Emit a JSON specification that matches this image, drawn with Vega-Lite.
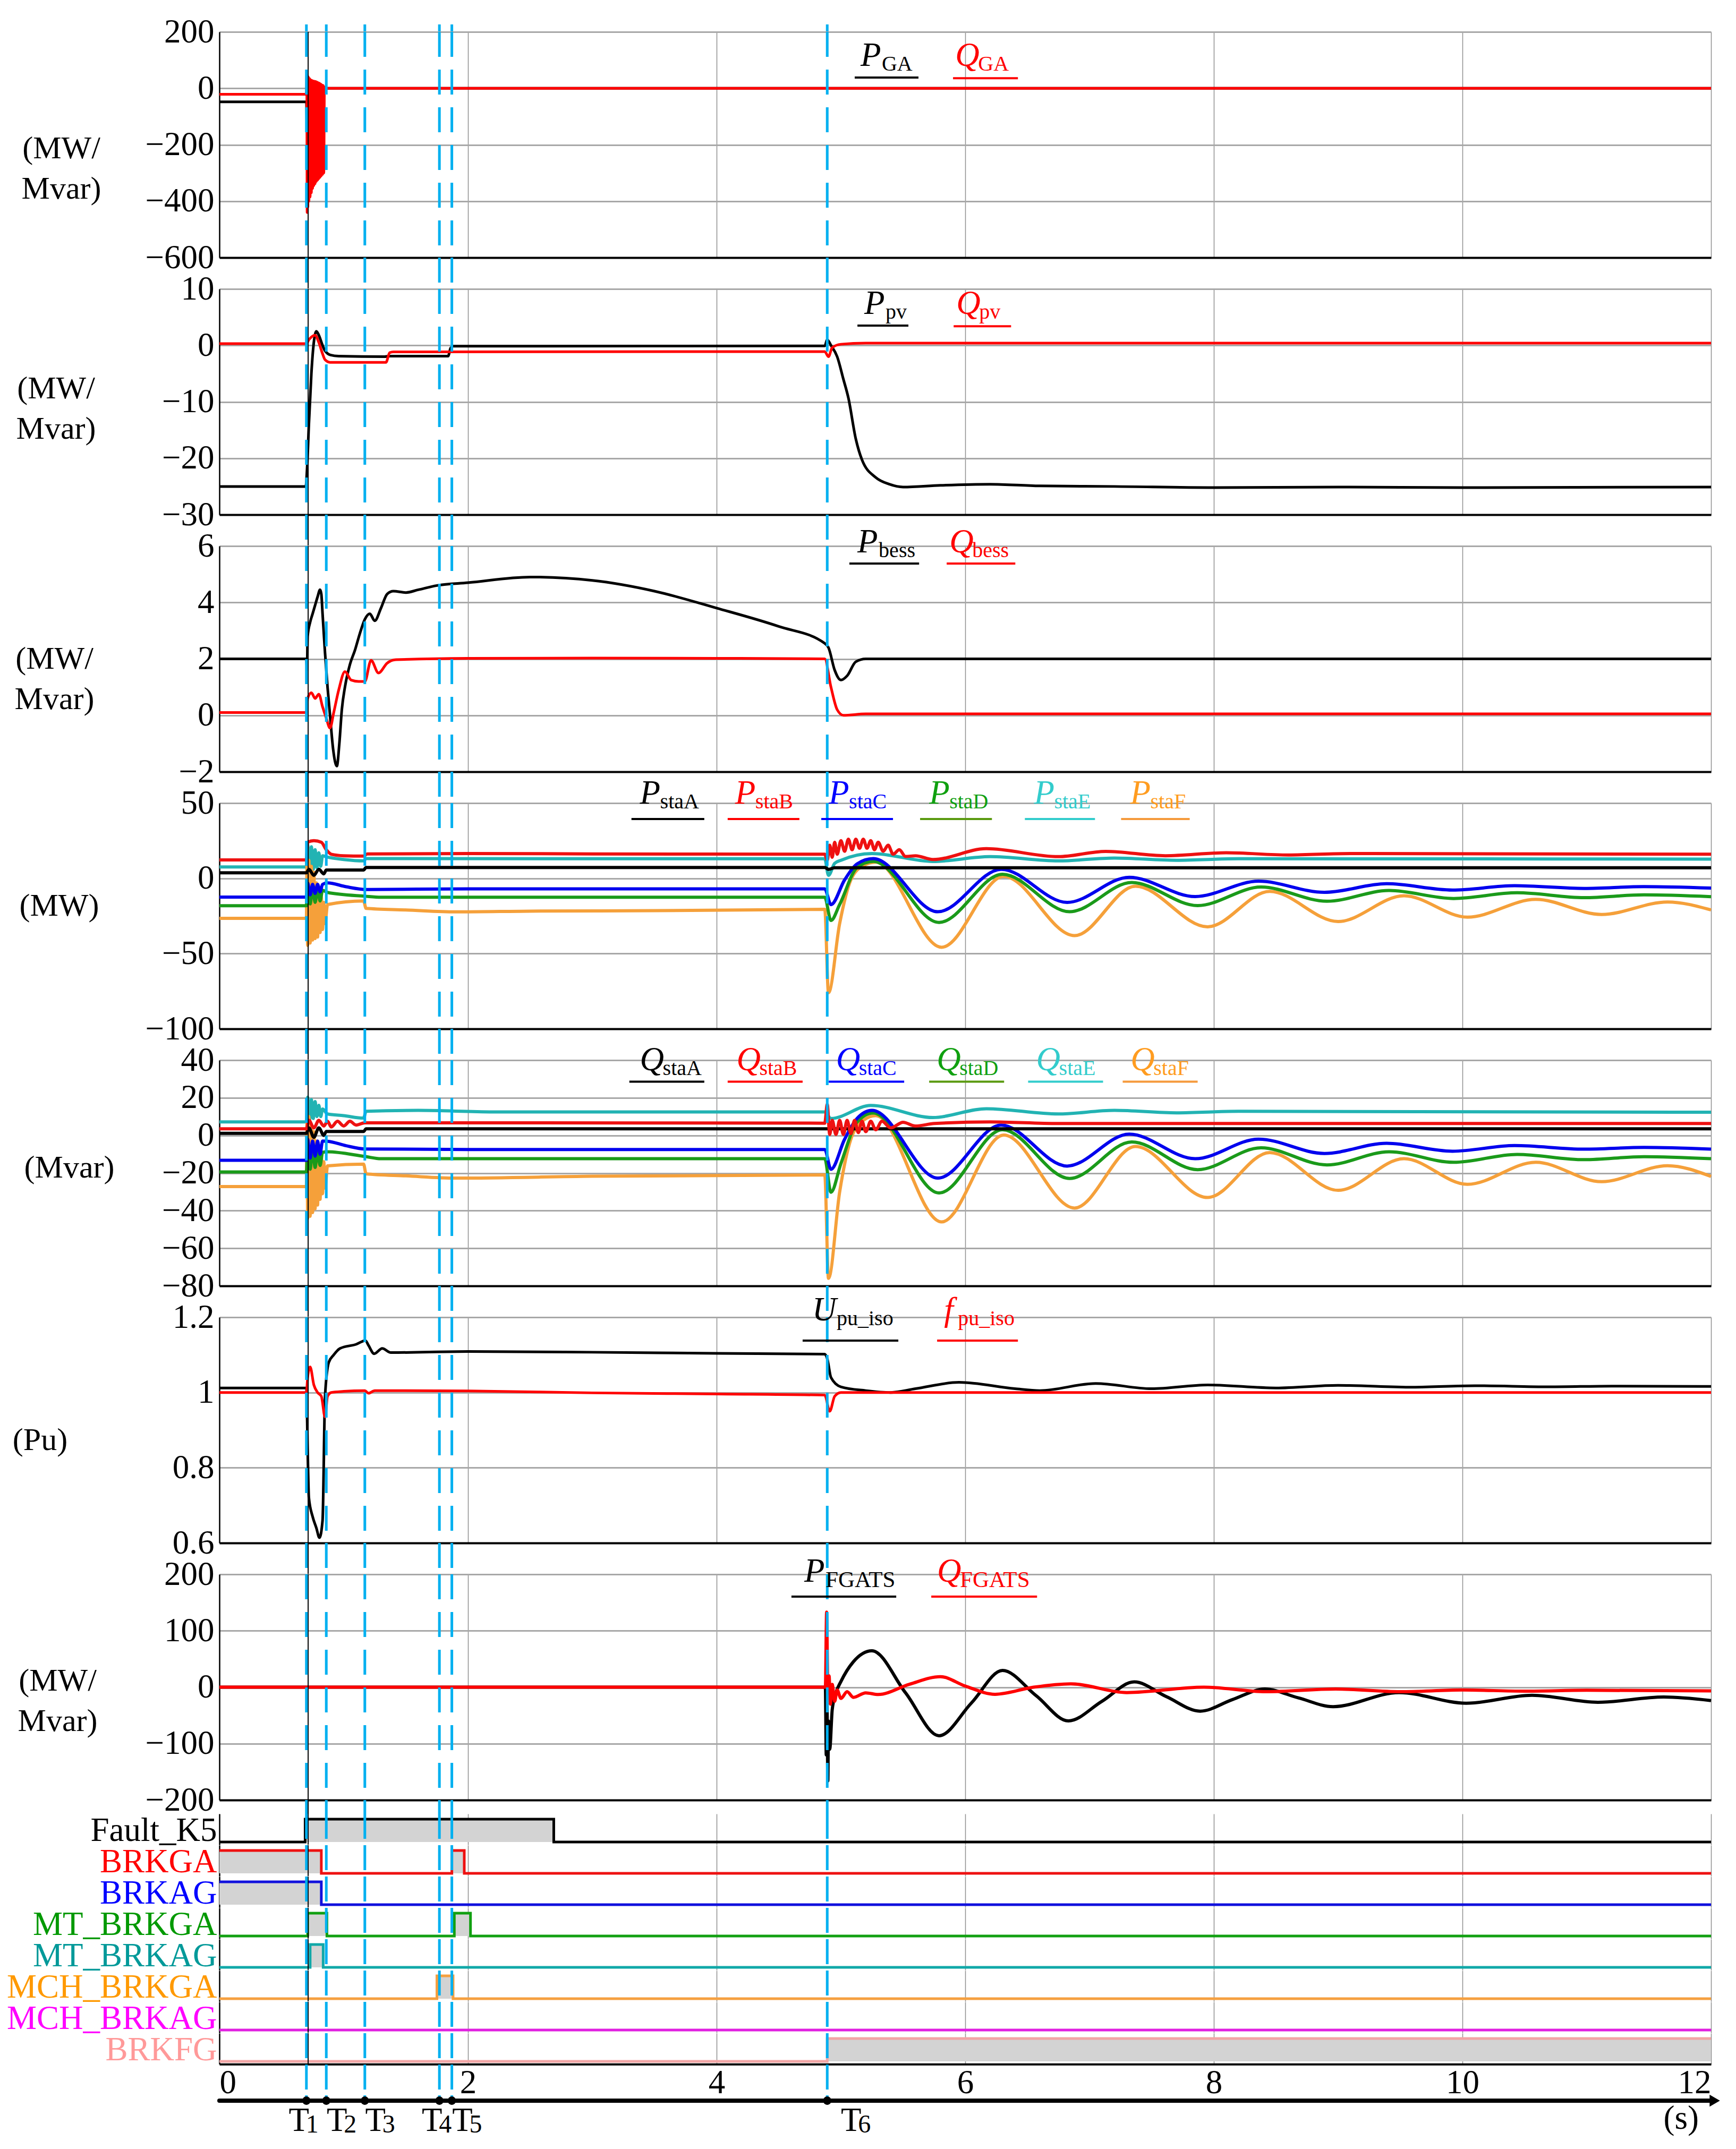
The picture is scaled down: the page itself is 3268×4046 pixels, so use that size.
{
"$schema": "https://vega.github.io/schema/vega-lite/v6.json",
"background": "white",
"padding": {"left": 12, "top": 29, "right": 10, "bottom": 10},
"config": {
  "font": "Liberation Serif",
  "view": {"stroke": null},
  "axis": {"labelFont": "Liberation Serif", "titleFont": "Liberation Serif", "labelFontSize": 63, "titleFontSize": 60, "titleFontWeight": "normal", "labelColor": "#000000", "titleColor": "#000000", "ticks": false, "domainColor": "#000000"},
  "axisX": {"grid": true, "gridColor": "#8f8f8f", "gridWidth": 1.5, "labels": false, "domainWidth": 4},
  "axisY": {"grid": true, "gridColor": "#a8a8a8", "gridWidth": 3, "domainWidth": 2.5, "labelPadding": 10, "titleAngle": 0, "titleAlign": "center", "titleBaseline": "middle", "titleLineHeight": 76, "titlePadding": 0},
  "line": {"interpolate": "monotone", "strokeWidth": 5},
  "text": {"font": "Liberation Serif"}
},
"datasets": {
  "T": [{"t":0.70,"n":"1"},{"t":0.86,"n":"2"},{"t":1.17,"n":"3"},{"t":1.77,"n":"4"},{"t":1.87,"n":"5"},{"t":4.89,"n":"6"}],
  "p1": [
    {"s":"P","t":0,"v":-48},{"s":"P","t":0.7,"v":-48},{"s":"P","t":0.705,"v":-150},{"s":"P","t":0.72,"v":-120},{"s":"P","t":0.76,"v":-80},{"s":"P","t":0.8,"v":-40},{"s":"P","t":0.84,"v":-10},{"s":"P","t":0.86,"v":0},{"s":"P","t":12,"v":0},
    {"s":"Q","t":0,"v":-21},{"s":"Q","t":0.7,"v":-21},{"s":"Q","t":0.703,"v":50},{"s":"Q","t":0.706,"v":-440},{"s":"Q","t":0.709,"v":45},{"s":"Q","t":0.712,"v":-420},{"s":"Q","t":0.715,"v":40},{"s":"Q","t":0.72,"v":-400},{"s":"Q","t":0.725,"v":35},{"s":"Q","t":0.73,"v":-385},{"s":"Q","t":0.735,"v":30},{"s":"Q","t":0.74,"v":-370},{"s":"Q","t":0.745,"v":28},{"s":"Q","t":0.75,"v":-355},{"s":"Q","t":0.755,"v":26},{"s":"Q","t":0.76,"v":-345},{"s":"Q","t":0.765,"v":25},{"s":"Q","t":0.77,"v":-338},{"s":"Q","t":0.775,"v":24},{"s":"Q","t":0.78,"v":-330},{"s":"Q","t":0.785,"v":22},{"s":"Q","t":0.79,"v":-325},{"s":"Q","t":0.795,"v":20},{"s":"Q","t":0.8,"v":-320},{"s":"Q","t":0.805,"v":18},{"s":"Q","t":0.81,"v":-315},{"s":"Q","t":0.815,"v":15},{"s":"Q","t":0.82,"v":-310},{"s":"Q","t":0.825,"v":12},{"s":"Q","t":0.83,"v":-305},{"s":"Q","t":0.835,"v":10},{"s":"Q","t":0.84,"v":-300},{"s":"Q","t":0.845,"v":5},{"s":"Q","t":0.85,"v":0},{"s":"Q","t":12,"v":0}
  ],
  "p2": [
    {"s":"P","t":0,"v":-25},{"s":"P","t":0.695,"v":-25},{"s":"P","t":0.705,"v":-22},{"s":"P","t":0.72,"v":-14},{"s":"P","t":0.74,"v":-5},{"s":"P","t":0.757,"v":0},{"s":"P","t":0.78,"v":2.5},{"s":"P","t":0.8,"v":1.8},{"s":"P","t":0.83,"v":0},{"s":"P","t":0.851,"v":-1.0},{"s":"P","t":0.894,"v":-1.7},{"s":"P","t":0.96,"v":-1.9},{"s":"P","t":1.33,"v":-2.0},{"s":"P","t":1.36,"v":-1.9},{"s":"P","t":1.84,"v":-1.9},{"s":"P","t":1.86,"v":-0.5},{"s":"P","t":1.88,"v":-0.15},{"s":"P","t":4.87,"v":-0.1},{"s":"P","t":4.89,"v":1.0},{"s":"P","t":4.92,"v":0},{"s":"P","t":4.97,"v":-2},{"s":"P","t":5.02,"v":-6},{"s":"P","t":5.06,"v":-9.3},{"s":"P","t":5.12,"v":-16.6},{"s":"P","t":5.17,"v":-20.3},{"s":"P","t":5.28,"v":-23.4},{"s":"P","t":5.39,"v":-24.6},{"s":"P","t":5.5,"v":-25.1},{"s":"P","t":5.8,"v":-24.8},{"s":"P","t":6.2,"v":-24.6},{"s":"P","t":6.6,"v":-24.9},{"s":"P","t":7.2,"v":-25.0},{"s":"P","t":8,"v":-25.2},{"s":"P","t":9,"v":-25.1},{"s":"P","t":10,"v":-25.2},{"s":"P","t":12,"v":-25.1},
    {"s":"Q","t":0,"v":0.3},{"s":"Q","t":0.7,"v":0.3},{"s":"Q","t":0.72,"v":1.0},{"s":"Q","t":0.77,"v":1.8},{"s":"Q","t":0.8,"v":0.5},{"s":"Q","t":0.83,"v":-1.5},{"s":"Q","t":0.85,"v":-2.55},{"s":"Q","t":0.89,"v":-3.0},{"s":"Q","t":1.34,"v":-3.0},{"s":"Q","t":1.37,"v":-1.3},{"s":"Q","t":1.4,"v":-1.15},{"s":"Q","t":4.87,"v":-1.1},{"s":"Q","t":4.9,"v":-2},{"s":"Q","t":4.93,"v":-0.4},{"s":"Q","t":5.0,"v":0.2},{"s":"Q","t":5.2,"v":0.4},{"s":"Q","t":12,"v":0.4}
  ],
  "p3": [
    {"s":"P","t":0,"v":2.0},{"s":"P","t":0.7,"v":2.0},{"s":"P","t":0.705,"v":1.6},{"s":"P","t":0.71,"v":2.8},{"s":"P","t":0.73,"v":3.3},{"s":"P","t":0.75,"v":3.6},{"s":"P","t":0.77,"v":3.9},{"s":"P","t":0.79,"v":4.2},{"s":"P","t":0.81,"v":4.45},{"s":"P","t":0.82,"v":4.3},{"s":"P","t":0.83,"v":3.6},{"s":"P","t":0.85,"v":2.2},{"s":"P","t":0.87,"v":1.0},{"s":"P","t":0.89,"v":0.0},{"s":"P","t":0.915,"v":-1.2},{"s":"P","t":0.945,"v":-1.8},{"s":"P","t":0.965,"v":-1.0},{"s":"P","t":0.985,"v":0.2},{"s":"P","t":1.01,"v":1.0},{"s":"P","t":1.05,"v":1.8},{"s":"P","t":1.09,"v":2.3},{"s":"P","t":1.13,"v":2.9},{"s":"P","t":1.17,"v":3.4},{"s":"P","t":1.21,"v":3.6},{"s":"P","t":1.25,"v":3.35},{"s":"P","t":1.3,"v":3.8},{"s":"P","t":1.35,"v":4.3},{"s":"P","t":1.4,"v":4.4},{"s":"P","t":1.5,"v":4.35},{"s":"P","t":1.6,"v":4.45},{"s":"P","t":1.75,"v":4.6},{"s":"P","t":2.0,"v":4.7},{"s":"P","t":2.5,"v":4.9},{"s":"P","t":3.0,"v":4.78},{"s":"P","t":3.5,"v":4.4},{"s":"P","t":4.0,"v":3.8},{"s":"P","t":4.5,"v":3.15},{"s":"P","t":4.87,"v":2.55},{"s":"P","t":4.9,"v":2.4},{"s":"P","t":4.95,"v":1.6},{"s":"P","t":5.0,"v":1.25},{"s":"P","t":5.05,"v":1.4},{"s":"P","t":5.12,"v":1.9},{"s":"P","t":5.2,"v":2.0},{"s":"P","t":12,"v":2.0},
    {"s":"Q","t":0,"v":0.1},{"s":"Q","t":0.7,"v":0.1},{"s":"Q","t":0.71,"v":0.6},{"s":"Q","t":0.74,"v":0.8},{"s":"Q","t":0.77,"v":0.6},{"s":"Q","t":0.8,"v":0.75},{"s":"Q","t":0.83,"v":0.3},{"s":"Q","t":0.86,"v":-0.1},{"s":"Q","t":0.89,"v":-0.45},{"s":"Q","t":0.92,"v":0.1},{"s":"Q","t":0.96,"v":0.9},{"s":"Q","t":1.01,"v":1.55},{"s":"Q","t":1.06,"v":1.25},{"s":"Q","t":1.12,"v":1.2},{"s":"Q","t":1.17,"v":1.2},{"s":"Q","t":1.22,"v":1.95},{"s":"Q","t":1.28,"v":1.5},{"s":"Q","t":1.35,"v":1.85},{"s":"Q","t":1.42,"v":1.97},{"s":"Q","t":2.0,"v":2.02},{"s":"Q","t":3.0,"v":2.03},{"s":"Q","t":4.0,"v":2.02},{"s":"Q","t":4.87,"v":2.0},{"s":"Q","t":4.92,"v":1.0},{"s":"Q","t":4.97,"v":0.2},{"s":"Q","t":5.02,"v":0.0},{"s":"Q","t":5.2,"v":0.05},{"s":"Q","t":12,"v":0.05}
  ],
  "p4": [
    {"s":"E","t":0,"v":7.6},{"s":"E","t":0.7,"v":7.6},{"s":"E","t":0.71,"v":22.5},{"s":"E","t":0.725,"v":5},{"s":"E","t":0.74,"v":21},{"s":"E","t":0.755,"v":6},{"s":"E","t":0.77,"v":19},{"s":"E","t":0.785,"v":7},{"s":"E","t":0.8,"v":17},{"s":"E","t":0.815,"v":8},{"s":"E","t":0.83,"v":15},{"s":"E","t":0.86,"v":14.3},{"s":"E","t":1.0,"v":12.5},{"s":"E","t":1.16,"v":11.6},{"s":"E","t":1.18,"v":13.1},{"s":"E","t":4.87,"v":13},{"s":"E","t":4.9,"v":2},{"s":"E","t":4.95,"v":10},{"s":"E","t":5.0,"v":12},{"s":"E","t":5.25,"v":16.5},{"s":"E","t":5.74,"v":11.2},{"s":"E","t":6.2,"v":14.4},{"s":"E","t":6.75,"v":11.6},{"s":"E","t":7.2,"v":13.5},{"s":"E","t":7.7,"v":12},{"s":"E","t":8.2,"v":13},{"s":"E","t":12,"v":12.8},
    {"s":"F","t":0,"v":-26.6},{"s":"F","t":0.7,"v":-26.6},{"s":"F","t":0.705,"v":14},{"s":"F","t":0.71,"v":-44.6},{"s":"F","t":0.72,"v":12},{"s":"F","t":0.73,"v":-43},{"s":"F","t":0.74,"v":8},{"s":"F","t":0.75,"v":-41},{"s":"F","t":0.76,"v":4},{"s":"F","t":0.77,"v":-40},{"s":"F","t":0.78,"v":-3},{"s":"F","t":0.79,"v":-39},{"s":"F","t":0.8,"v":-8},{"s":"F","t":0.81,"v":-36},{"s":"F","t":0.82,"v":-12},{"s":"F","t":0.83,"v":-34},{"s":"F","t":0.84,"v":-16},{"s":"F","t":0.85,"v":-30},{"s":"F","t":0.87,"v":-17.4},{"s":"F","t":1.16,"v":-15},{"s":"F","t":1.18,"v":-20},{"s":"F","t":1.5,"v":-21},{"s":"F","t":1.9,"v":-22.3},{"s":"F","t":2.5,"v":-21.8},{"s":"F","t":3.5,"v":-21.5},{"s":"F","t":4.87,"v":-20.6},{"s":"F","t":4.9,"v":-76},{"s":"F","t":4.99,"v":-30},{"s":"F","t":5.08,"v":-1},{"s":"F","t":5.18,"v":8.4},{"s":"F","t":5.28,"v":10.7},{"s":"F","t":5.81,"v":-45.8},{"s":"F","t":6.31,"v":1.3},{"s":"F","t":6.88,"v":-38.1},{"s":"F","t":7.37,"v":-5.2},{"s":"F","t":7.95,"v":-32.2},{"s":"F","t":8.45,"v":-8.7},{"s":"F","t":9.0,"v":-28.7},{"s":"F","t":9.53,"v":-11.6},{"s":"F","t":10.04,"v":-25.8},{"s":"F","t":10.59,"v":-14},{"s":"F","t":11.12,"v":-24},{"s":"F","t":11.65,"v":-15.7},{"s":"F","t":12,"v":-21},
    {"s":"D","t":0,"v":-18.2},{"s":"D","t":0.7,"v":-18.2},{"s":"D","t":0.71,"v":-5},{"s":"D","t":0.73,"v":-17},{"s":"D","t":0.75,"v":-6},{"s":"D","t":0.77,"v":-16},{"s":"D","t":0.79,"v":-7},{"s":"D","t":0.81,"v":-15},{"s":"D","t":0.83,"v":-8},{"s":"D","t":0.87,"v":-9.4},{"s":"D","t":1.17,"v":-11.9},{"s":"D","t":1.3,"v":-12.6},{"s":"D","t":4.87,"v":-12.6},{"s":"D","t":4.92,"v":-28},{"s":"D","t":4.99,"v":-17.4},{"s":"D","t":5.13,"v":7.2},{"s":"D","t":5.26,"v":11.3},{"s":"D","t":5.79,"v":-29.3},{"s":"D","t":6.3,"v":2.7},{"s":"D","t":6.84,"v":-22.2},{"s":"D","t":7.34,"v":-2.8},{"s":"D","t":7.87,"v":-18.1},{"s":"D","t":8.38,"v":-5.8},{"s":"D","t":8.91,"v":-15.2},{"s":"D","t":9.41,"v":-8.1},{"s":"D","t":9.93,"v":-13.4},{"s":"D","t":10.44,"v":-9.6},{"s":"D","t":10.98,"v":-12.8},{"s":"D","t":11.46,"v":-11},{"s":"D","t":12,"v":-12.2},
    {"s":"C","t":0,"v":-12.5},{"s":"C","t":0.7,"v":-12.5},{"s":"C","t":0.71,"v":-3},{"s":"C","t":0.73,"v":-11},{"s":"C","t":0.75,"v":-4},{"s":"C","t":0.77,"v":-10},{"s":"C","t":0.79,"v":-4},{"s":"C","t":0.81,"v":-9},{"s":"C","t":0.83,"v":-4},{"s":"C","t":0.87,"v":-3},{"s":"C","t":1.02,"v":-5.6},{"s":"C","t":1.18,"v":-7.4},{"s":"C","t":2,"v":-7},{"s":"C","t":4.87,"v":-7},{"s":"C","t":4.92,"v":-17.5},{"s":"C","t":5.03,"v":-1},{"s":"C","t":5.13,"v":9.6},{"s":"C","t":5.26,"v":13.1},{"s":"C","t":5.78,"v":-22.2},{"s":"C","t":6.29,"v":6},{"s":"C","t":6.82,"v":-16},{"s":"C","t":7.32,"v":0.7},{"s":"C","t":7.85,"v":-12.1},{"s":"C","t":8.36,"v":-1.9},{"s":"C","t":8.89,"v":-9.3},{"s":"C","t":9.39,"v":-3.6},{"s":"C","t":9.92,"v":-7.8},{"s":"C","t":10.42,"v":-4.9},{"s":"C","t":10.98,"v":-6.7},{"s":"C","t":11.46,"v":-5.5},{"s":"C","t":12,"v":-6.5},
    {"s":"A","t":0,"v":3.7},{"s":"A","t":0.7,"v":3.7},{"s":"A","t":0.72,"v":6},{"s":"A","t":0.76,"v":2},{"s":"A","t":0.8,"v":6},{"s":"A","t":0.84,"v":3},{"s":"A","t":0.86,"v":5.5},{"s":"A","t":1.16,"v":5.5},{"s":"A","t":1.18,"v":7.2},{"s":"A","t":4.87,"v":7.2},{"s":"A","t":4.9,"v":6},{"s":"A","t":4.95,"v":7},{"s":"A","t":12,"v":7.0},
    {"s":"B","t":0,"v":12.2},{"s":"B","t":0.7,"v":12.2},{"s":"B","t":0.71,"v":24},{"s":"B","t":0.76,"v":25},{"s":"B","t":0.82,"v":24},{"s":"B","t":0.86,"v":19},{"s":"B","t":0.9,"v":16},{"s":"B","t":1.0,"v":15},{"s":"B","t":1.16,"v":14.8},{"s":"B","t":1.19,"v":16.2},{"s":"B","t":2,"v":16.5},{"s":"B","t":3,"v":16.2},{"s":"B","t":4.87,"v":16},{"s":"B","t":4.89,"v":12},{"s":"B","t":4.91,"v":22},{"s":"B","t":4.93,"v":14},{"s":"B","t":4.95,"v":24},{"s":"B","t":4.97,"v":16},{"s":"B","t":5.0,"v":25},{"s":"B","t":5.03,"v":18},{"s":"B","t":5.06,"v":26},{"s":"B","t":5.09,"v":19},{"s":"B","t":5.12,"v":26},{"s":"B","t":5.15,"v":20},{"s":"B","t":5.18,"v":26},{"s":"B","t":5.21,"v":20},{"s":"B","t":5.24,"v":25},{"s":"B","t":5.27,"v":19},{"s":"B","t":5.3,"v":24},{"s":"B","t":5.34,"v":18},{"s":"B","t":5.38,"v":22},{"s":"B","t":5.42,"v":16},{"s":"B","t":5.47,"v":19},{"s":"B","t":5.52,"v":14.5},{"s":"B","t":5.6,"v":15},{"s":"B","t":5.74,"v":12.5},{"s":"B","t":6.17,"v":19.7},{"s":"B","t":6.75,"v":14.4},{"s":"B","t":7.13,"v":17.9},{"s":"B","t":7.61,"v":15},{"s":"B","t":8.1,"v":17},{"s":"B","t":8.6,"v":15.5},{"s":"B","t":9.1,"v":16.5},{"s":"B","t":12,"v":16}
  ],
  "p5": [
    {"s":"E","t":0,"v":7.2},{"s":"E","t":0.7,"v":7.2},{"s":"E","t":0.71,"v":20.3},{"s":"E","t":0.725,"v":8},{"s":"E","t":0.74,"v":19},{"s":"E","t":0.755,"v":9},{"s":"E","t":0.77,"v":18},{"s":"E","t":0.785,"v":10},{"s":"E","t":0.8,"v":16},{"s":"E","t":0.815,"v":10},{"s":"E","t":0.83,"v":14},{"s":"E","t":0.87,"v":11.4},{"s":"E","t":1.0,"v":10.5},{"s":"E","t":1.16,"v":9.2},{"s":"E","t":1.18,"v":12.8},{"s":"E","t":1.6,"v":13.3},{"s":"E","t":2.2,"v":12.5},{"s":"E","t":4.87,"v":12.5},{"s":"E","t":4.92,"v":9},{"s":"E","t":5.24,"v":15.9},{"s":"E","t":5.74,"v":9.5},{"s":"E","t":6.17,"v":14.2},{"s":"E","t":6.75,"v":11.4},{"s":"E","t":7.2,"v":13.3},{"s":"E","t":7.7,"v":12},{"s":"E","t":8.2,"v":12.8},{"s":"E","t":12,"v":12.3},
    {"s":"F","t":0,"v":-27.2},{"s":"F","t":0.7,"v":-27.2},{"s":"F","t":0.705,"v":11.9},{"s":"F","t":0.71,"v":-44.2},{"s":"F","t":0.72,"v":10},{"s":"F","t":0.73,"v":-43},{"s":"F","t":0.74,"v":6},{"s":"F","t":0.75,"v":-41},{"s":"F","t":0.76,"v":2},{"s":"F","t":0.77,"v":-39},{"s":"F","t":0.78,"v":-3},{"s":"F","t":0.79,"v":-37},{"s":"F","t":0.8,"v":-7},{"s":"F","t":0.81,"v":-34},{"s":"F","t":0.82,"v":-10},{"s":"F","t":0.83,"v":-31},{"s":"F","t":0.84,"v":-14},{"s":"F","t":0.85,"v":-28},{"s":"F","t":0.87,"v":-16.2},{"s":"F","t":1.16,"v":-15.3},{"s":"F","t":1.18,"v":-20.4},{"s":"F","t":1.5,"v":-21.5},{"s":"F","t":1.9,"v":-22.7},{"s":"F","t":3,"v":-21.7},{"s":"F","t":4.87,"v":-21},{"s":"F","t":4.9,"v":-76},{"s":"F","t":4.99,"v":-30},{"s":"F","t":5.08,"v":-2},{"s":"F","t":5.18,"v":8},{"s":"F","t":5.28,"v":10.5},{"s":"F","t":5.81,"v":-46},{"s":"F","t":6.31,"v":0.2},{"s":"F","t":6.88,"v":-38.6},{"s":"F","t":7.37,"v":-5.9},{"s":"F","t":7.95,"v":-33},{"s":"F","t":8.45,"v":-9.1},{"s":"F","t":9.0,"v":-29.2},{"s":"F","t":9.53,"v":-12.4},{"s":"F","t":10.04,"v":-26},{"s":"F","t":10.59,"v":-14.3},{"s":"F","t":11.12,"v":-24.6},{"s":"F","t":11.65,"v":-16.1},{"s":"F","t":12,"v":-21.8},
    {"s":"D","t":0,"v":-19.4},{"s":"D","t":0.7,"v":-19.4},{"s":"D","t":0.71,"v":-6},{"s":"D","t":0.73,"v":-18},{"s":"D","t":0.75,"v":-7},{"s":"D","t":0.77,"v":-17},{"s":"D","t":0.79,"v":-8},{"s":"D","t":0.81,"v":-16},{"s":"D","t":0.83,"v":-9},{"s":"D","t":0.87,"v":-8.7},{"s":"D","t":1.17,"v":-11.2},{"s":"D","t":1.3,"v":-12.4},{"s":"D","t":4.87,"v":-12.4},{"s":"D","t":4.92,"v":-30.2},{"s":"D","t":5.0,"v":-15},{"s":"D","t":5.13,"v":7},{"s":"D","t":5.26,"v":11.9},{"s":"D","t":5.79,"v":-30.6},{"s":"D","t":6.3,"v":3},{"s":"D","t":6.84,"v":-22.9},{"s":"D","t":7.34,"v":-3.5},{"s":"D","t":7.87,"v":-18.2},{"s":"D","t":8.38,"v":-6.6},{"s":"D","t":8.91,"v":-15.7},{"s":"D","t":9.41,"v":-8.7},{"s":"D","t":9.93,"v":-14.3},{"s":"D","t":10.44,"v":-10.1},{"s":"D","t":10.98,"v":-12.9},{"s":"D","t":11.46,"v":-11.3},{"s":"D","t":12,"v":-12.4},
    {"s":"C","t":0,"v":-13.2},{"s":"C","t":0.7,"v":-13.2},{"s":"C","t":0.71,"v":-2},{"s":"C","t":0.73,"v":-12},{"s":"C","t":0.75,"v":-3},{"s":"C","t":0.77,"v":-11},{"s":"C","t":0.79,"v":-3},{"s":"C","t":0.81,"v":-10},{"s":"C","t":0.83,"v":-3},{"s":"C","t":0.87,"v":-3.1},{"s":"C","t":1.02,"v":-5.5},{"s":"C","t":1.17,"v":-7.2},{"s":"C","t":2,"v":-7.5},{"s":"C","t":4.87,"v":-7.5},{"s":"C","t":4.92,"v":-18},{"s":"C","t":5.03,"v":-2},{"s":"C","t":5.13,"v":9},{"s":"C","t":5.25,"v":13.3},{"s":"C","t":5.78,"v":-22.7},{"s":"C","t":6.29,"v":5.5},{"s":"C","t":6.82,"v":-16.3},{"s":"C","t":7.32,"v":0.7},{"s":"C","t":7.85,"v":-12.4},{"s":"C","t":8.36,"v":-2},{"s":"C","t":8.89,"v":-9.6},{"s":"C","t":9.39,"v":-4.2},{"s":"C","t":9.92,"v":-8.4},{"s":"C","t":10.42,"v":-5.4},{"s":"C","t":10.98,"v":-7.3},{"s":"C","t":11.46,"v":-6.4},{"s":"C","t":12,"v":-7.3},
    {"s":"A","t":0,"v":1.1},{"s":"A","t":0.7,"v":1.1},{"s":"A","t":0.72,"v":4},{"s":"A","t":0.76,"v":-1},{"s":"A","t":0.8,"v":4},{"s":"A","t":0.84,"v":0},{"s":"A","t":0.86,"v":2.1},{"s":"A","t":1.16,"v":2.1},{"s":"A","t":1.18,"v":3.5},{"s":"A","t":12,"v":3.5},
    {"s":"B","t":0,"v":3.5},{"s":"B","t":0.7,"v":3.5},{"s":"B","t":0.72,"v":8},{"s":"B","t":0.76,"v":4},{"s":"B","t":0.8,"v":8},{"s":"B","t":0.84,"v":5},{"s":"B","t":0.87,"v":7.5},{"s":"B","t":0.9,"v":4.5},{"s":"B","t":0.95,"v":7.5},{"s":"B","t":1.0,"v":5},{"s":"B","t":1.05,"v":7.5},{"s":"B","t":1.1,"v":5.5},{"s":"B","t":1.17,"v":6.7},{"s":"B","t":2,"v":6.7},{"s":"B","t":4.87,"v":6.5},{"s":"B","t":4.89,"v":16.5},{"s":"B","t":4.91,"v":0.5},{"s":"B","t":4.93,"v":8},{"s":"B","t":4.96,"v":0.5},{"s":"B","t":4.99,"v":8},{"s":"B","t":5.02,"v":0.5},{"s":"B","t":5.05,"v":8},{"s":"B","t":5.08,"v":1},{"s":"B","t":5.11,"v":8},{"s":"B","t":5.14,"v":1.5},{"s":"B","t":5.17,"v":7.5},{"s":"B","t":5.2,"v":2},{"s":"B","t":5.24,"v":7.5},{"s":"B","t":5.28,"v":3},{"s":"B","t":5.33,"v":7.5},{"s":"B","t":5.4,"v":4},{"s":"B","t":5.5,"v":7},{"s":"B","t":5.6,"v":5},{"s":"B","t":5.75,"v":6.3},{"s":"B","t":6.2,"v":7.2},{"s":"B","t":6.75,"v":6.3},{"s":"B","t":12,"v":6.3}
  ],
  "p6": [
    {"s":"U","t":0,"v":1.012},{"s":"U","t":0.7,"v":1.012},{"s":"U","t":0.71,"v":0.85},{"s":"U","t":0.72,"v":0.72},{"s":"U","t":0.75,"v":0.67},{"s":"U","t":0.78,"v":0.64},{"s":"U","t":0.805,"v":0.614},{"s":"U","t":0.83,"v":0.66},{"s":"U","t":0.85,"v":0.99},{"s":"U","t":0.88,"v":1.08},{"s":"U","t":0.92,"v":1.10},{"s":"U","t":0.97,"v":1.117},{"s":"U","t":1.1,"v":1.128},{"s":"U","t":1.175,"v":1.138},{"s":"U","t":1.2,"v":1.125},{"s":"U","t":1.245,"v":1.103},{"s":"U","t":1.31,"v":1.117},{"s":"U","t":1.38,"v":1.106},{"s":"U","t":2.0,"v":1.109},{"s":"U","t":3.0,"v":1.107},{"s":"U","t":4.0,"v":1.104},{"s":"U","t":4.87,"v":1.102},{"s":"U","t":4.89,"v":1.09},{"s":"U","t":4.92,"v":1.04},{"s":"U","t":5.0,"v":1.015},{"s":"U","t":5.2,"v":1.005},{"s":"U","t":5.4,"v":1.0},{"s":"U","t":5.6,"v":1.01},{"s":"U","t":5.95,"v":1.027},{"s":"U","t":6.4,"v":1.01},{"s":"U","t":6.6,"v":1.005},{"s":"U","t":7.05,"v":1.024},{"s":"U","t":7.5,"v":1.01},{"s":"U","t":7.95,"v":1.02},{"s":"U","t":8.5,"v":1.012},{"s":"U","t":9.0,"v":1.019},{"s":"U","t":9.6,"v":1.014},{"s":"U","t":10.1,"v":1.018},{"s":"U","t":10.7,"v":1.015},{"s":"U","t":11.2,"v":1.017},{"s":"U","t":12,"v":1.016},
    {"s":"f","t":0,"v":1.0},{"s":"f","t":0.7,"v":1.0},{"s":"f","t":0.71,"v":1.04},{"s":"f","t":0.73,"v":1.068},{"s":"f","t":0.76,"v":1.02},{"s":"f","t":0.79,"v":1.0},{"s":"f","t":0.82,"v":0.99},{"s":"f","t":0.85,"v":0.935},{"s":"f","t":0.87,"v":0.99},{"s":"f","t":0.9,"v":1.0},{"s":"f","t":1.0,"v":1.003},{"s":"f","t":1.17,"v":1.005},{"s":"f","t":1.2,"v":0.998},{"s":"f","t":1.25,"v":1.005},{"s":"f","t":2.0,"v":1.004},{"s":"f","t":3.0,"v":0.999},{"s":"f","t":4.0,"v":0.996},{"s":"f","t":4.87,"v":0.993},{"s":"f","t":4.91,"v":0.95},{"s":"f","t":4.95,"v":0.99},{"s":"f","t":5.0,"v":1.0},{"s":"f","t":12,"v":1.0}
  ],
  "p7": [
    {"s":"P","t":0,"v":0},{"s":"P","t":4.875,"v":0},{"s":"P","t":4.882,"v":-120},{"s":"P","t":4.888,"v":-30},{"s":"P","t":4.895,"v":-166},{"s":"P","t":4.9,"v":-60},{"s":"P","t":4.91,"v":-110},{"s":"P","t":4.93,"v":-40},{"s":"P","t":4.96,"v":-10},{"s":"P","t":5.0,"v":10},{"s":"P","t":5.1,"v":45},{"s":"P","t":5.25,"v":64.5},{"s":"P","t":5.52,"v":-10},{"s":"P","t":5.79,"v":-86},{"s":"P","t":6.05,"v":-28},{"s":"P","t":6.3,"v":29.6},{"s":"P","t":6.57,"v":-15},{"s":"P","t":6.83,"v":-59.8},{"s":"P","t":7.1,"v":-25},{"s":"P","t":7.36,"v":9.3},{"s":"P","t":7.62,"v":-17},{"s":"P","t":7.89,"v":-42.5},{"s":"P","t":8.15,"v":-22},{"s":"P","t":8.41,"v":-3.3},{"s":"P","t":8.68,"v":-19},{"s":"P","t":8.96,"v":-34.5},{"s":"P","t":9.49,"v":-9.6},{"s":"P","t":10.03,"v":-28.4},{"s":"P","t":10.56,"v":-14.3},{"s":"P","t":11.09,"v":-26.8},{"s":"P","t":11.62,"v":-17.4},{"s":"P","t":12,"v":-23.7},
    {"s":"Q","t":0,"v":0},{"s":"Q","t":4.875,"v":0},{"s":"Q","t":4.885,"v":133},{"s":"Q","t":4.895,"v":-10},{"s":"Q","t":4.905,"v":20},{"s":"Q","t":4.915,"v":-30},{"s":"Q","t":4.93,"v":5},{"s":"Q","t":4.95,"v":-25},{"s":"Q","t":4.97,"v":-5},{"s":"Q","t":5.0,"v":-20},{"s":"Q","t":5.05,"v":-8},{"s":"Q","t":5.1,"v":-18},{"s":"Q","t":5.2,"v":-10},{"s":"Q","t":5.3,"v":-13},{"s":"Q","t":5.55,"v":5},{"s":"Q","t":5.8,"v":18.6},{"s":"Q","t":6.0,"v":2},{"s":"Q","t":6.24,"v":-12.6},{"s":"Q","t":6.55,"v":0},{"s":"Q","t":6.85,"v":6},{"s":"Q","t":7.3,"v":-9.6},{"s":"Q","t":7.92,"v":0},{"s":"Q","t":8.42,"v":-8},{"s":"Q","t":8.98,"v":-3.3},{"s":"Q","t":9.5,"v":-8},{"s":"Q","t":10,"v":-5},{"s":"Q","t":10.5,"v":-7},{"s":"Q","t":11,"v":-5.5},{"s":"Q","t":12,"v":-6.5}
  ],
  "brk": [
    {"s":"Fault_K5","t":0,"v":0},{"s":"Fault_K5","t":0.69,"v":1},{"s":"Fault_K5","t":2.69,"v":0},{"s":"Fault_K5","t":12,"v":0},
    {"s":"BRKGA","t":0,"v":1},{"s":"BRKGA","t":0.82,"v":0},{"s":"BRKGA","t":1.87,"v":1},{"s":"BRKGA","t":1.97,"v":0},{"s":"BRKGA","t":12,"v":0},
    {"s":"BRKAG","t":0,"v":1},{"s":"BRKAG","t":0.82,"v":0},{"s":"BRKAG","t":12,"v":0},
    {"s":"MT_BRKGA","t":0,"v":0},{"s":"MT_BRKGA","t":0.71,"v":1},{"s":"MT_BRKGA","t":0.865,"v":0},{"s":"MT_BRKGA","t":1.89,"v":1},{"s":"MT_BRKGA","t":2.02,"v":0},{"s":"MT_BRKGA","t":12,"v":0},
    {"s":"MT_BRKAG","t":0,"v":0},{"s":"MT_BRKAG","t":0.73,"v":1},{"s":"MT_BRKAG","t":0.835,"v":0},{"s":"MT_BRKAG","t":12,"v":0},
    {"s":"MCH_BRKGA","t":0,"v":0},{"s":"MCH_BRKGA","t":1.75,"v":1},{"s":"MCH_BRKGA","t":1.88,"v":0},{"s":"MCH_BRKGA","t":12,"v":0},
    {"s":"MCH_BRKAG","t":0,"v":0},{"s":"MCH_BRKAG","t":12,"v":0},
    {"s":"BRKFG","t":0,"v":0},{"s":"BRKFG","t":4.89,"v":1},{"s":"BRKFG","t":12,"v":1}
  ]
},
"spacing": 0,
"bounds": "flush",
"resolve": {"scale": {"color": "independent", "x": "independent", "y": "independent"}},
"vconcat": [
  {"width": 2808, "height": 14, "layer": [
    {"data": {"name": "T"}, "mark": {"type": "rule", "color": "#00b0f0", "strokeWidth": 5, "strokeDash": [47,24]}, "encoding": {"x": {"field": "t", "type": "quantitative", "scale": {"domain": [0,12], "nice": false, "zero": false}, "axis": null}}}
  ]},
  {"width": 2808, "height": 425, "layer": [
    {"data": {"name": "p1"}, "mark": {"type": "line", "strokeWidth": 5}, "encoding": {
      "x": {"field": "t", "type": "quantitative", "scale": {"domain": [0,12], "nice": false, "zero": false}, "axis": {"values": [0,2,4,6,8,10,12], "title": null}},
      "y": {"field": "v", "type": "quantitative", "scale": {"domain": [-600,200], "nice": false, "zero": false}, "axis": {"values": [-600,-400,-200,0,200], "title": ["(MW/","Mvar)"], "titleX": -298, "titleY": 219}},
      "color": {"field": "s", "type": "nominal", "scale": {"domain": ["P","Q"], "range": ["#000000","#ff0000"]}, "legend": null}}},
    {"data": {"values": [{}]}, "mark": {"type": "rule", "color": "#000000", "strokeWidth": 2}, "encoding": {"x": {"datum": 0.714}}},
    {"data": {"name": "T"}, "mark": {"type": "rule", "color": "#00b0f0", "strokeWidth": 5, "strokeDash": [47,24]}, "encoding": {"x": {"field": "t", "type": "quantitative"}}},
    {"data": {"values": [{}]}, "mark": {"type": "text", "text": "P", "fontStyle": "italic", "fontSize": 63, "color": "#000000", "align": "left", "baseline": "alphabetic"}, "encoding": {"x": {"datum": 5.158}, "y": {"datum": 79}}},
    {"data": {"values": [{}]}, "mark": {"type": "text", "text": "GA", "fontSize": 40, "color": "#000000", "align": "left", "baseline": "alphabetic", "dx": 40, "dy": 9}, "encoding": {"x": {"datum": 5.158}, "y": {"datum": 79}}},
    {"data": {"values": [{}]}, "mark": {"type": "rule", "color": "#000000", "strokeWidth": 4}, "encoding": {"x": {"datum": 5.111}, "x2": {"datum": 5.624}, "y": {"datum": 38}}},
    {"data": {"values": [{}]}, "mark": {"type": "text", "text": "Q", "fontStyle": "italic", "fontSize": 63, "color": "#ff0000", "align": "left", "baseline": "alphabetic"}, "encoding": {"x": {"datum": 5.92}, "y": {"datum": 79}}},
    {"data": {"values": [{}]}, "mark": {"type": "text", "text": "GA", "fontSize": 40, "color": "#ff0000", "align": "left", "baseline": "alphabetic", "dx": 43, "dy": 9}, "encoding": {"x": {"datum": 5.92}, "y": {"datum": 79}}},
    {"data": {"values": [{}]}, "mark": {"type": "rule", "color": "#ff0000", "strokeWidth": 4}, "encoding": {"x": {"datum": 5.902}, "x2": {"datum": 6.424}, "y": {"datum": 36}}}
  ]},
  {"width": 2808, "height": 59, "layer": [
    {"data": {"name": "T"}, "mark": {"type": "rule", "color": "#00b0f0", "strokeWidth": 5, "strokeDash": [47,24]}, "encoding": {"x": {"field": "t", "type": "quantitative", "scale": {"domain": [0,12], "nice": false, "zero": false}, "axis": null}}},
    {"data": {"values": [{}]}, "mark": {"type": "rule", "color": "#000000", "strokeWidth": 2}, "encoding": {"x": {"datum": 0.714}}}
  ]},
  {"width": 2808, "height": 425, "layer": [
    {"data": {"name": "p2"}, "mark": {"type": "line", "strokeWidth": 5}, "encoding": {
      "x": {"field": "t", "type": "quantitative", "scale": {"domain": [0,12], "nice": false, "zero": false}, "axis": {"values": [0,2,4,6,8,10,12], "title": null}},
      "y": {"field": "v", "type": "quantitative", "scale": {"domain": [-30,10], "nice": false, "zero": false}, "axis": {"values": [-30,-20,-10,0,10], "title": ["(MW/","Mvar)"], "titleX": -308, "titleY": 187}},
      "color": {"field": "s", "type": "nominal", "scale": {"domain": ["P","Q"], "range": ["#000000","#ff0000"]}, "legend": null}}},
    {"data": {"values": [{}]}, "mark": {"type": "rule", "color": "#000000", "strokeWidth": 2}, "encoding": {"x": {"datum": 0.714}}},
    {"data": {"name": "T"}, "mark": {"type": "rule", "color": "#00b0f0", "strokeWidth": 5, "strokeDash": [47,24]}, "encoding": {"x": {"field": "t", "type": "quantitative"}}},
    {"data": {"values": [{}]}, "mark": {"type": "text", "text": "P", "fontStyle": "italic", "fontSize": 63, "color": "#000000", "align": "left", "baseline": "alphabetic"}, "encoding": {"x": {"datum": 5.188}, "y": {"datum": 5.6}}},
    {"data": {"values": [{}]}, "mark": {"type": "text", "text": "pv", "fontSize": 40, "color": "#000000", "align": "left", "baseline": "alphabetic", "dx": 40, "dy": 9}, "encoding": {"x": {"datum": 5.188}, "y": {"datum": 5.6}}},
    {"data": {"values": [{}]}, "mark": {"type": "rule", "color": "#000000", "strokeWidth": 4}, "encoding": {"x": {"datum": 5.133}, "x2": {"datum": 5.543}, "y": {"datum": 3.5}}},
    {"data": {"values": [{}]}, "mark": {"type": "text", "text": "Q", "fontStyle": "italic", "fontSize": 63, "color": "#ff0000", "align": "left", "baseline": "alphabetic"}, "encoding": {"x": {"datum": 5.928}, "y": {"datum": 5.6}}},
    {"data": {"values": [{}]}, "mark": {"type": "text", "text": "pv", "fontSize": 40, "color": "#ff0000", "align": "left", "baseline": "alphabetic", "dx": 43, "dy": 9}, "encoding": {"x": {"datum": 5.928}, "y": {"datum": 5.6}}},
    {"data": {"values": [{}]}, "mark": {"type": "rule", "color": "#ff0000", "strokeWidth": 4}, "encoding": {"x": {"datum": 5.907}, "x2": {"datum": 6.369}, "y": {"datum": 3.4}}}
  ]},
  {"width": 2808, "height": 59, "layer": [
    {"data": {"name": "T"}, "mark": {"type": "rule", "color": "#00b0f0", "strokeWidth": 5, "strokeDash": [47,24]}, "encoding": {"x": {"field": "t", "type": "quantitative", "scale": {"domain": [0,12], "nice": false, "zero": false}, "axis": null}}},
    {"data": {"values": [{}]}, "mark": {"type": "rule", "color": "#000000", "strokeWidth": 2}, "encoding": {"x": {"datum": 0.714}}}
  ]},
  {"width": 2808, "height": 425, "layer": [
    {"data": {"name": "p3"}, "mark": {"type": "line", "strokeWidth": 5}, "encoding": {
      "x": {"field": "t", "type": "quantitative", "scale": {"domain": [0,12], "nice": false, "zero": false}, "axis": {"values": [0,2,4,6,8,10,12], "title": null}},
      "y": {"field": "v", "type": "quantitative", "scale": {"domain": [-2,6], "nice": false, "zero": false}, "axis": {"values": [-2,0,2,4,6], "title": ["(MW/","Mvar)"], "titleX": -311, "titleY": 212}},
      "color": {"field": "s", "type": "nominal", "scale": {"domain": ["P","Q"], "range": ["#000000","#ff0000"]}, "legend": null}}},
    {"data": {"values": [{}]}, "mark": {"type": "rule", "color": "#000000", "strokeWidth": 2}, "encoding": {"x": {"datum": 0.714}}},
    {"data": {"name": "T"}, "mark": {"type": "rule", "color": "#00b0f0", "strokeWidth": 5, "strokeDash": [47,24]}, "encoding": {"x": {"field": "t", "type": "quantitative"}}},
    {"data": {"values": [{}]}, "mark": {"type": "text", "text": "P", "fontStyle": "italic", "fontSize": 63, "color": "#000000", "align": "left", "baseline": "alphabetic"}, "encoding": {"x": {"datum": 5.133}, "y": {"datum": 5.77}}},
    {"data": {"values": [{}]}, "mark": {"type": "text", "text": "bess", "fontSize": 40, "color": "#000000", "align": "left", "baseline": "alphabetic", "dx": 40, "dy": 9}, "encoding": {"x": {"datum": 5.133}, "y": {"datum": 5.77}}},
    {"data": {"values": [{}]}, "mark": {"type": "rule", "color": "#000000", "strokeWidth": 4}, "encoding": {"x": {"datum": 5.068}, "x2": {"datum": 5.629}, "y": {"datum": 5.38}}},
    {"data": {"values": [{}]}, "mark": {"type": "text", "text": "Q", "fontStyle": "italic", "fontSize": 63, "color": "#ff0000", "align": "left", "baseline": "alphabetic"}, "encoding": {"x": {"datum": 5.873}, "y": {"datum": 5.77}}},
    {"data": {"values": [{}]}, "mark": {"type": "text", "text": "bess", "fontSize": 40, "color": "#ff0000", "align": "left", "baseline": "alphabetic", "dx": 43, "dy": 9}, "encoding": {"x": {"datum": 5.873}, "y": {"datum": 5.77}}},
    {"data": {"values": [{}]}, "mark": {"type": "rule", "color": "#ff0000", "strokeWidth": 4}, "encoding": {"x": {"datum": 5.851}, "x2": {"datum": 6.403}, "y": {"datum": 5.38}}}
  ]},
  {"width": 2808, "height": 59, "layer": [
    {"data": {"name": "T"}, "mark": {"type": "rule", "color": "#00b0f0", "strokeWidth": 5, "strokeDash": [47,24]}, "encoding": {"x": {"field": "t", "type": "quantitative", "scale": {"domain": [0,12], "nice": false, "zero": false}, "axis": null}}},
    {"data": {"values": [{}]}, "mark": {"type": "rule", "color": "#000000", "strokeWidth": 2}, "encoding": {"x": {"datum": 0.714}}}
  ]},
  {"width": 2808, "height": 425, "layer": [
    {"data": {"name": "p4"}, "mark": {"type": "line", "strokeWidth": 6}, "encoding": {
      "x": {"field": "t", "type": "quantitative", "scale": {"domain": [0,12], "nice": false, "zero": false}, "axis": {"values": [0,2,4,6,8,10,12], "title": null}},
      "y": {"field": "v", "type": "quantitative", "scale": {"domain": [-100,50], "nice": false, "zero": false}, "axis": {"values": [-100,-50,0,50], "title": "(MW)", "titleX": -302, "titleY": 193}},
      "color": {"field": "s", "type": "nominal", "scale": {"domain": ["A","B","C","D","E","F"], "range": ["#000000","#ee1111","#0000ee","#1a9a1a","#22b3b3","#f5a03a"]}, "legend": null}}},
    {"data": {"values": [{}]}, "mark": {"type": "rule", "color": "#000000", "strokeWidth": 2}, "encoding": {"x": {"datum": 0.714}}},
    {"data": {"name": "T"}, "mark": {"type": "rule", "color": "#00b0f0", "strokeWidth": 5, "strokeDash": [47,24]}, "encoding": {"x": {"field": "t", "type": "quantitative"}}},
    {"data": {"values": [{}]}, "mark": {"type": "text", "text": "P", "fontStyle": "italic", "fontSize": 63, "color": "#000000", "align": "left", "baseline": "alphabetic"}, "encoding": {"x": {"datum": 3.383}, "y": {"datum": 49.6}}},
    {"data": {"values": [{}]}, "mark": {"type": "text", "text": "staA", "fontSize": 40, "color": "#000000", "align": "left", "baseline": "alphabetic", "dx": 38, "dy": 9}, "encoding": {"x": {"datum": 3.383}, "y": {"datum": 49.6}}},
    {"data": {"values": [{}]}, "mark": {"type": "rule", "color": "#000000", "strokeWidth": 4}, "encoding": {"x": {"datum": 3.315}, "x2": {"datum": 3.901}, "y": {"datum": 39.4}}},
    {"data": {"values": [{}]}, "mark": {"type": "text", "text": "P", "fontStyle": "italic", "fontSize": 63, "color": "#ff0000", "align": "left", "baseline": "alphabetic"}, "encoding": {"x": {"datum": 4.149}, "y": {"datum": 49.6}}},
    {"data": {"values": [{}]}, "mark": {"type": "text", "text": "staB", "fontSize": 40, "color": "#ff0000", "align": "left", "baseline": "alphabetic", "dx": 38, "dy": 9}, "encoding": {"x": {"datum": 4.149}, "y": {"datum": 49.6}}},
    {"data": {"values": [{}]}, "mark": {"type": "rule", "color": "#ff0000", "strokeWidth": 4}, "encoding": {"x": {"datum": 4.089}, "x2": {"datum": 4.666}, "y": {"datum": 39.4}}},
    {"data": {"values": [{}]}, "mark": {"type": "text", "text": "P", "fontStyle": "italic", "fontSize": 63, "color": "#0000ff", "align": "left", "baseline": "alphabetic"}, "encoding": {"x": {"datum": 4.902}, "y": {"datum": 49.6}}},
    {"data": {"values": [{}]}, "mark": {"type": "text", "text": "staC", "fontSize": 40, "color": "#0000ff", "align": "left", "baseline": "alphabetic", "dx": 38, "dy": 9}, "encoding": {"x": {"datum": 4.902}, "y": {"datum": 49.6}}},
    {"data": {"values": [{}]}, "mark": {"type": "rule", "color": "#0000ff", "strokeWidth": 4}, "encoding": {"x": {"datum": 4.842}, "x2": {"datum": 5.419}, "y": {"datum": 39.4}}},
    {"data": {"values": [{}]}, "mark": {"type": "text", "text": "P", "fontStyle": "italic", "fontSize": 63, "color": "#10a010", "align": "left", "baseline": "alphabetic"}, "encoding": {"x": {"datum": 5.71}, "y": {"datum": 49.6}}},
    {"data": {"values": [{}]}, "mark": {"type": "text", "text": "staD", "fontSize": 40, "color": "#10a010", "align": "left", "baseline": "alphabetic", "dx": 38, "dy": 9}, "encoding": {"x": {"datum": 5.71}, "y": {"datum": 49.6}}},
    {"data": {"values": [{}]}, "mark": {"type": "rule", "color": "#5a9a10", "strokeWidth": 4}, "encoding": {"x": {"datum": 5.637}, "x2": {"datum": 6.215}, "y": {"datum": 39.4}}},
    {"data": {"values": [{}]}, "mark": {"type": "text", "text": "P", "fontStyle": "italic", "fontSize": 63, "color": "#33cccc", "align": "left", "baseline": "alphabetic"}, "encoding": {"x": {"datum": 6.553}, "y": {"datum": 49.6}}},
    {"data": {"values": [{}]}, "mark": {"type": "text", "text": "staE", "fontSize": 40, "color": "#33cccc", "align": "left", "baseline": "alphabetic", "dx": 38, "dy": 9}, "encoding": {"x": {"datum": 6.553}, "y": {"datum": 49.6}}},
    {"data": {"values": [{}]}, "mark": {"type": "rule", "color": "#33cccc", "strokeWidth": 4}, "encoding": {"x": {"datum": 6.48}, "x2": {"datum": 7.044}, "y": {"datum": 39.4}}},
    {"data": {"values": [{}]}, "mark": {"type": "text", "text": "P", "fontStyle": "italic", "fontSize": 63, "color": "#ff9c20", "align": "left", "baseline": "alphabetic"}, "encoding": {"x": {"datum": 7.327}, "y": {"datum": 49.6}}},
    {"data": {"values": [{}]}, "mark": {"type": "text", "text": "staF", "fontSize": 40, "color": "#ff9c20", "align": "left", "baseline": "alphabetic", "dx": 38, "dy": 9}, "encoding": {"x": {"datum": 7.327}, "y": {"datum": 49.6}}},
    {"data": {"values": [{}]}, "mark": {"type": "rule", "color": "#f59a3c", "strokeWidth": 4}, "encoding": {"x": {"datum": 7.254}, "x2": {"datum": 7.806}, "y": {"datum": 39.4}}}
  ]},
  {"width": 2808, "height": 59, "layer": [
    {"data": {"name": "T"}, "mark": {"type": "rule", "color": "#00b0f0", "strokeWidth": 5, "strokeDash": [47,24]}, "encoding": {"x": {"field": "t", "type": "quantitative", "scale": {"domain": [0,12], "nice": false, "zero": false}, "axis": null}}},
    {"data": {"values": [{}]}, "mark": {"type": "rule", "color": "#000000", "strokeWidth": 2}, "encoding": {"x": {"datum": 0.714}}}
  ]},
  {"width": 2808, "height": 425, "layer": [
    {"data": {"name": "p5"}, "mark": {"type": "line", "strokeWidth": 6}, "encoding": {
      "x": {"field": "t", "type": "quantitative", "scale": {"domain": [0,12], "nice": false, "zero": false}, "axis": {"values": [0,2,4,6,8,10,12], "title": null}},
      "y": {"field": "v", "type": "quantitative", "scale": {"domain": [-80,40], "nice": false, "zero": false}, "axis": {"values": [-80,-60,-40,-20,0,20,40], "title": "(Mvar)", "titleX": -283, "titleY": 202}},
      "color": {"field": "s", "type": "nominal", "scale": {"domain": ["A","B","C","D","E","F"], "range": ["#000000","#ee1111","#0000ee","#1a9a1a","#22b3b3","#f5a03a"]}, "legend": null}}},
    {"data": {"values": [{}]}, "mark": {"type": "rule", "color": "#000000", "strokeWidth": 2}, "encoding": {"x": {"datum": 0.714}}},
    {"data": {"name": "T"}, "mark": {"type": "rule", "color": "#00b0f0", "strokeWidth": 5, "strokeDash": [47,24]}, "encoding": {"x": {"field": "t", "type": "quantitative"}}},
    {"data": {"values": [{}]}, "mark": {"type": "text", "text": "Q", "fontStyle": "italic", "fontSize": 63, "color": "#000000", "align": "left", "baseline": "alphabetic"}, "encoding": {"x": {"datum": 3.383}, "y": {"datum": 34.7}}},
    {"data": {"values": [{}]}, "mark": {"type": "text", "text": "staA", "fontSize": 40, "color": "#000000", "align": "left", "baseline": "alphabetic", "dx": 43, "dy": 9}, "encoding": {"x": {"datum": 3.383}, "y": {"datum": 34.7}}},
    {"data": {"values": [{}]}, "mark": {"type": "rule", "color": "#000000", "strokeWidth": 4}, "encoding": {"x": {"datum": 3.298}, "x2": {"datum": 3.901}, "y": {"datum": 28.6}}},
    {"data": {"values": [{}]}, "mark": {"type": "text", "text": "Q", "fontStyle": "italic", "fontSize": 63, "color": "#ff0000", "align": "left", "baseline": "alphabetic"}, "encoding": {"x": {"datum": 4.16}, "y": {"datum": 34.7}}},
    {"data": {"values": [{}]}, "mark": {"type": "text", "text": "staB", "fontSize": 40, "color": "#ff0000", "align": "left", "baseline": "alphabetic", "dx": 43, "dy": 9}, "encoding": {"x": {"datum": 4.16}, "y": {"datum": 34.7}}},
    {"data": {"values": [{}]}, "mark": {"type": "rule", "color": "#ff0000", "strokeWidth": 4}, "encoding": {"x": {"datum": 4.089}, "x2": {"datum": 4.692}, "y": {"datum": 28.6}}},
    {"data": {"values": [{}]}, "mark": {"type": "text", "text": "Q", "fontStyle": "italic", "fontSize": 63, "color": "#0000ff", "align": "left", "baseline": "alphabetic"}, "encoding": {"x": {"datum": 4.96}, "y": {"datum": 34.7}}},
    {"data": {"values": [{}]}, "mark": {"type": "text", "text": "staC", "fontSize": 40, "color": "#0000ff", "align": "left", "baseline": "alphabetic", "dx": 43, "dy": 9}, "encoding": {"x": {"datum": 4.96}, "y": {"datum": 34.7}}},
    {"data": {"values": [{}]}, "mark": {"type": "rule", "color": "#0000ff", "strokeWidth": 4}, "encoding": {"x": {"datum": 4.902}, "x2": {"datum": 5.509}, "y": {"datum": 28.6}}},
    {"data": {"values": [{}]}, "mark": {"type": "text", "text": "Q", "fontStyle": "italic", "fontSize": 63, "color": "#10a010", "align": "left", "baseline": "alphabetic"}, "encoding": {"x": {"datum": 5.77}, "y": {"datum": 34.7}}},
    {"data": {"values": [{}]}, "mark": {"type": "text", "text": "staD", "fontSize": 40, "color": "#10a010", "align": "left", "baseline": "alphabetic", "dx": 43, "dy": 9}, "encoding": {"x": {"datum": 5.77}, "y": {"datum": 34.7}}},
    {"data": {"values": [{}]}, "mark": {"type": "rule", "color": "#5a9a10", "strokeWidth": 4}, "encoding": {"x": {"datum": 5.71}, "x2": {"datum": 6.313}, "y": {"datum": 28.6}}},
    {"data": {"values": [{}]}, "mark": {"type": "text", "text": "Q", "fontStyle": "italic", "fontSize": 63, "color": "#33cccc", "align": "left", "baseline": "alphabetic"}, "encoding": {"x": {"datum": 6.571}, "y": {"datum": 34.7}}},
    {"data": {"values": [{}]}, "mark": {"type": "text", "text": "staE", "fontSize": 40, "color": "#33cccc", "align": "left", "baseline": "alphabetic", "dx": 43, "dy": 9}, "encoding": {"x": {"datum": 6.571}, "y": {"datum": 34.7}}},
    {"data": {"values": [{}]}, "mark": {"type": "rule", "color": "#33cccc", "strokeWidth": 4}, "encoding": {"x": {"datum": 6.506}, "x2": {"datum": 7.109}, "y": {"datum": 28.6}}},
    {"data": {"values": [{}]}, "mark": {"type": "text", "text": "Q", "fontStyle": "italic", "fontSize": 63, "color": "#ff9c20", "align": "left", "baseline": "alphabetic"}, "encoding": {"x": {"datum": 7.33}, "y": {"datum": 34.7}}},
    {"data": {"values": [{}]}, "mark": {"type": "text", "text": "staF", "fontSize": 40, "color": "#ff9c20", "align": "left", "baseline": "alphabetic", "dx": 43, "dy": 9}, "encoding": {"x": {"datum": 7.33}, "y": {"datum": 34.7}}},
    {"data": {"values": [{}]}, "mark": {"type": "rule", "color": "#f59a3c", "strokeWidth": 4}, "encoding": {"x": {"datum": 7.267}, "x2": {"datum": 7.87}, "y": {"datum": 28.6}}}
  ]},
  {"width": 2808, "height": 59, "layer": [
    {"data": {"name": "T"}, "mark": {"type": "rule", "color": "#00b0f0", "strokeWidth": 5, "strokeDash": [47,24]}, "encoding": {"x": {"field": "t", "type": "quantitative", "scale": {"domain": [0,12], "nice": false, "zero": false}, "axis": null}}},
    {"data": {"values": [{}]}, "mark": {"type": "rule", "color": "#000000", "strokeWidth": 2}, "encoding": {"x": {"datum": 0.714}}}
  ]},
  {"width": 2808, "height": 425, "layer": [
    {"data": {"name": "p6"}, "mark": {"type": "line", "strokeWidth": 5}, "encoding": {
      "x": {"field": "t", "type": "quantitative", "scale": {"domain": [0,12], "nice": false, "zero": false}, "axis": {"values": [0,2,4,6,8,10,12], "title": null}},
      "y": {"field": "v", "type": "quantitative", "scale": {"domain": [0.6,1.2], "nice": false, "zero": false}, "axis": {"values": [0.6,0.8,1,1.2], "format": "~g", "title": "(Pu)", "titleX": -338, "titleY": 231}},
      "color": {"field": "s", "type": "nominal", "scale": {"domain": ["U","f"], "range": ["#000000","#ff0000"]}, "legend": null}}},
    {"data": {"values": [{}]}, "mark": {"type": "rule", "color": "#000000", "strokeWidth": 2}, "encoding": {"x": {"datum": 0.714}}},
    {"data": {"name": "T"}, "mark": {"type": "rule", "color": "#00b0f0", "strokeWidth": 5, "strokeDash": [47,24]}, "encoding": {"x": {"field": "t", "type": "quantitative"}}},
    {"data": {"values": [{}]}, "mark": {"type": "text", "text": "U", "fontStyle": "italic", "fontSize": 63, "color": "#000000", "align": "left", "baseline": "alphabetic"}, "encoding": {"x": {"datum": 4.769}, "y": {"datum": 1.1915}}},
    {"data": {"values": [{}]}, "mark": {"type": "text", "text": "pu_iso", "fontSize": 40, "color": "#000000", "align": "left", "baseline": "alphabetic", "dx": 46, "dy": 9}, "encoding": {"x": {"datum": 4.769}, "y": {"datum": 1.1915}}},
    {"data": {"values": [{}]}, "mark": {"type": "rule", "color": "#000000", "strokeWidth": 4}, "encoding": {"x": {"datum": 4.692}, "x2": {"datum": 5.462}, "y": {"datum": 1.138}}},
    {"data": {"values": [{}]}, "mark": {"type": "text", "text": "f", "fontStyle": "italic", "fontSize": 63, "color": "#ff0000", "align": "left", "baseline": "alphabetic"}, "encoding": {"x": {"datum": 5.83}, "y": {"datum": 1.1915}}},
    {"data": {"values": [{}]}, "mark": {"type": "text", "text": "pu_iso", "fontSize": 40, "color": "#ff0000", "align": "left", "baseline": "alphabetic", "dx": 26, "dy": 9}, "encoding": {"x": {"datum": 5.83}, "y": {"datum": 1.1915}}},
    {"data": {"values": [{}]}, "mark": {"type": "rule", "color": "#ff0000", "strokeWidth": 4}, "encoding": {"x": {"datum": 5.774}, "x2": {"datum": 6.424}, "y": {"datum": 1.138}}}
  ]},
  {"width": 2808, "height": 59, "layer": [
    {"data": {"name": "T"}, "mark": {"type": "rule", "color": "#00b0f0", "strokeWidth": 5, "strokeDash": [47,24]}, "encoding": {"x": {"field": "t", "type": "quantitative", "scale": {"domain": [0,12], "nice": false, "zero": false}, "axis": null}}},
    {"data": {"values": [{}]}, "mark": {"type": "rule", "color": "#000000", "strokeWidth": 2}, "encoding": {"x": {"datum": 0.714}}}
  ]},
  {"width": 2808, "height": 425, "layer": [
    {"data": {"name": "p7"}, "mark": {"type": "line", "strokeWidth": 6}, "encoding": {
      "x": {"field": "t", "type": "quantitative", "scale": {"domain": [0,12], "nice": false, "zero": false}, "axis": {"values": [0,2,4,6,8,10,12], "title": null}},
      "y": {"field": "v", "type": "quantitative", "scale": {"domain": [-200,200], "nice": false, "zero": false}, "axis": {"values": [-200,-100,0,100,200], "title": ["(MW/","Mvar)"], "titleX": -305, "titleY": 200}},
      "color": {"field": "s", "type": "nominal", "scale": {"domain": ["P","Q"], "range": ["#000000","#ff0000"]}, "legend": null}}},
    {"data": {"values": [{}]}, "mark": {"type": "rule", "color": "#000000", "strokeWidth": 2}, "encoding": {"x": {"datum": 0.714}}},
    {"data": {"name": "T"}, "mark": {"type": "rule", "color": "#00b0f0", "strokeWidth": 5, "strokeDash": [47,24]}, "encoding": {"x": {"field": "t", "type": "quantitative"}}},
    {"data": {"values": [{}]}, "mark": {"type": "text", "text": "P", "fontStyle": "italic", "fontSize": 63, "color": "#000000", "align": "left", "baseline": "alphabetic"}, "encoding": {"x": {"datum": 4.705}, "y": {"datum": 186.8}}},
    {"data": {"values": [{}]}, "mark": {"type": "text", "text": "FGATS", "fontSize": 43, "color": "#000000", "align": "left", "baseline": "alphabetic", "dx": 40, "dy": 10}, "encoding": {"x": {"datum": 4.705}, "y": {"datum": 186.8}}},
    {"data": {"values": [{}]}, "mark": {"type": "rule", "color": "#000000", "strokeWidth": 4}, "encoding": {"x": {"datum": 4.602}, "x2": {"datum": 5.445}, "y": {"datum": 160.5}}},
    {"data": {"values": [{}]}, "mark": {"type": "text", "text": "Q", "fontStyle": "italic", "fontSize": 63, "color": "#ff0000", "align": "left", "baseline": "alphabetic"}, "encoding": {"x": {"datum": 5.774}, "y": {"datum": 186.8}}},
    {"data": {"values": [{}]}, "mark": {"type": "text", "text": "FGATS", "fontSize": 43, "color": "#ff0000", "align": "left", "baseline": "alphabetic", "dx": 43, "dy": 10}, "encoding": {"x": {"datum": 5.774}, "y": {"datum": 186.8}}},
    {"data": {"values": [{}]}, "mark": {"type": "rule", "color": "#ff0000", "strokeWidth": 4}, "encoding": {"x": {"datum": 5.727}, "x2": {"datum": 6.578}, "y": {"datum": 160.5}}}
  ]},
  {"width": 2808, "height": 26, "layer": [
    {"data": {"name": "T"}, "mark": {"type": "rule", "color": "#00b0f0", "strokeWidth": 5, "strokeDash": [47,24]}, "encoding": {"x": {"field": "t", "type": "quantitative", "scale": {"domain": [0,12], "nice": false, "zero": false}, "axis": null}}},
    {"data": {"values": [{}]}, "mark": {"type": "rule", "color": "#000000", "strokeWidth": 2}, "encoding": {"x": {"datum": 0.714}}}
  ]},
  {"width": 2808, "height": 58.25, "layer": [
    {"data": {"name": "brk"}, "transform": [{"filter": "datum.s == 'Fault_K5'"}], "mark": {"type": "area", "interpolate": "step-after", "color": "#d3d3d3"}, "encoding": {
      "x": {"field": "t", "type": "quantitative", "scale": {"domain": [0,12], "nice": false, "zero": false}, "axis": {"values": [0,2,4,6,8,10,12], "title": null, "domain": false}},
      "y": {"field": "v", "type": "quantitative", "scale": {"domain": [-0.12,1.23], "nice": false, "zero": false}, "axis": {"title": "Fault_K5", "titleColor": "#000000", "titleFontSize": 63, "titleAlign": "right", "titleBaseline": "alphabetic", "titleX": -5, "titleY": 50, "labels": false, "grid": false}},
      "y2": {"datum": 0}}},
    {"data": {"name": "brk"}, "transform": [{"filter": "datum.s == 'Fault_K5'"}], "mark": {"type": "line", "interpolate": "step-after", "color": "#000000", "strokeWidth": 5}, "encoding": {"x": {"field": "t", "type": "quantitative"}, "y": {"field": "v", "type": "quantitative"}}},
    {"data": {"values": [{}]}, "mark": {"type": "rule", "color": "#000000", "strokeWidth": 2}, "encoding": {"x": {"datum": 0.714}}},
    {"data": {"name": "T"}, "mark": {"type": "rule", "color": "#00b0f0", "strokeWidth": 5, "strokeDash": [47,24]}, "encoding": {"x": {"field": "t", "type": "quantitative"}}}
  ]},
  {"width": 2808, "height": 58.25, "layer": [
    {"data": {"name": "brk"}, "transform": [{"filter": "datum.s == 'BRKGA'"}], "mark": {"type": "area", "interpolate": "step-after", "color": "#d3d3d3"}, "encoding": {
      "x": {"field": "t", "type": "quantitative", "scale": {"domain": [0,12], "nice": false, "zero": false}, "axis": {"values": [0,2,4,6,8,10,12], "title": null, "domain": false}},
      "y": {"field": "v", "type": "quantitative", "scale": {"domain": [-0.12,1.23], "nice": false, "zero": false}, "axis": {"title": "BRKGA", "titleColor": "#ff0000", "titleFontSize": 63, "titleAlign": "right", "titleBaseline": "alphabetic", "titleX": -5, "titleY": 50, "labels": false, "grid": false}},
      "y2": {"datum": 0}}},
    {"data": {"name": "brk"}, "transform": [{"filter": "datum.s == 'BRKGA'"}], "mark": {"type": "line", "interpolate": "step-after", "color": "#ee1111", "strokeWidth": 5}, "encoding": {"x": {"field": "t", "type": "quantitative"}, "y": {"field": "v", "type": "quantitative"}}},
    {"data": {"values": [{}]}, "mark": {"type": "rule", "color": "#000000", "strokeWidth": 2}, "encoding": {"x": {"datum": 0.714}}},
    {"data": {"name": "T"}, "mark": {"type": "rule", "color": "#00b0f0", "strokeWidth": 5, "strokeDash": [47,24]}, "encoding": {"x": {"field": "t", "type": "quantitative"}}}
  ]},
  {"width": 2808, "height": 58.25, "layer": [
    {"data": {"name": "brk"}, "transform": [{"filter": "datum.s == 'BRKAG'"}], "mark": {"type": "area", "interpolate": "step-after", "color": "#d3d3d3"}, "encoding": {
      "x": {"field": "t", "type": "quantitative", "scale": {"domain": [0,12], "nice": false, "zero": false}, "axis": {"values": [0,2,4,6,8,10,12], "title": null, "domain": false}},
      "y": {"field": "v", "type": "quantitative", "scale": {"domain": [-0.12,1.23], "nice": false, "zero": false}, "axis": {"title": "BRKAG", "titleColor": "#0000ff", "titleFontSize": 63, "titleAlign": "right", "titleBaseline": "alphabetic", "titleX": -5, "titleY": 50, "labels": false, "grid": false}},
      "y2": {"datum": 0}}},
    {"data": {"name": "brk"}, "transform": [{"filter": "datum.s == 'BRKAG'"}], "mark": {"type": "line", "interpolate": "step-after", "color": "#1111dd", "strokeWidth": 5}, "encoding": {"x": {"field": "t", "type": "quantitative"}, "y": {"field": "v", "type": "quantitative"}}},
    {"data": {"values": [{}]}, "mark": {"type": "rule", "color": "#000000", "strokeWidth": 2}, "encoding": {"x": {"datum": 0.714}}},
    {"data": {"name": "T"}, "mark": {"type": "rule", "color": "#00b0f0", "strokeWidth": 5, "strokeDash": [47,24]}, "encoding": {"x": {"field": "t", "type": "quantitative"}}}
  ]},
  {"width": 2808, "height": 58.25, "layer": [
    {"data": {"name": "brk"}, "transform": [{"filter": "datum.s == 'MT_BRKGA'"}], "mark": {"type": "area", "interpolate": "step-after", "color": "#d3d3d3"}, "encoding": {
      "x": {"field": "t", "type": "quantitative", "scale": {"domain": [0,12], "nice": false, "zero": false}, "axis": {"values": [0,2,4,6,8,10,12], "title": null, "domain": false}},
      "y": {"field": "v", "type": "quantitative", "scale": {"domain": [-0.12,1.23], "nice": false, "zero": false}, "axis": {"title": "MT_BRKGA", "titleColor": "#009900", "titleFontSize": 63, "titleAlign": "right", "titleBaseline": "alphabetic", "titleX": -5, "titleY": 50, "labels": false, "grid": false}},
      "y2": {"datum": 0}}},
    {"data": {"name": "brk"}, "transform": [{"filter": "datum.s == 'MT_BRKGA'"}], "mark": {"type": "line", "interpolate": "step-after", "color": "#11a011", "strokeWidth": 5}, "encoding": {"x": {"field": "t", "type": "quantitative"}, "y": {"field": "v", "type": "quantitative"}}},
    {"data": {"values": [{}]}, "mark": {"type": "rule", "color": "#000000", "strokeWidth": 2}, "encoding": {"x": {"datum": 0.714}}},
    {"data": {"name": "T"}, "mark": {"type": "rule", "color": "#00b0f0", "strokeWidth": 5, "strokeDash": [47,24]}, "encoding": {"x": {"field": "t", "type": "quantitative"}}}
  ]},
  {"width": 2808, "height": 58.25, "layer": [
    {"data": {"name": "brk"}, "transform": [{"filter": "datum.s == 'MT_BRKAG'"}], "mark": {"type": "area", "interpolate": "step-after", "color": "#d3d3d3"}, "encoding": {
      "x": {"field": "t", "type": "quantitative", "scale": {"domain": [0,12], "nice": false, "zero": false}, "axis": {"values": [0,2,4,6,8,10,12], "title": null, "domain": false}},
      "y": {"field": "v", "type": "quantitative", "scale": {"domain": [-0.12,1.23], "nice": false, "zero": false}, "axis": {"title": "MT_BRKAG", "titleColor": "#009999", "titleFontSize": 63, "titleAlign": "right", "titleBaseline": "alphabetic", "titleX": -5, "titleY": 50, "labels": false, "grid": false}},
      "y2": {"datum": 0}}},
    {"data": {"name": "brk"}, "transform": [{"filter": "datum.s == 'MT_BRKAG'"}], "mark": {"type": "line", "interpolate": "step-after", "color": "#11a8a8", "strokeWidth": 5}, "encoding": {"x": {"field": "t", "type": "quantitative"}, "y": {"field": "v", "type": "quantitative"}}},
    {"data": {"values": [{}]}, "mark": {"type": "rule", "color": "#000000", "strokeWidth": 2}, "encoding": {"x": {"datum": 0.714}}},
    {"data": {"name": "T"}, "mark": {"type": "rule", "color": "#00b0f0", "strokeWidth": 5, "strokeDash": [47,24]}, "encoding": {"x": {"field": "t", "type": "quantitative"}}}
  ]},
  {"width": 2808, "height": 58.25, "layer": [
    {"data": {"name": "brk"}, "transform": [{"filter": "datum.s == 'MCH_BRKGA'"}], "mark": {"type": "area", "interpolate": "step-after", "color": "#d3d3d3"}, "encoding": {
      "x": {"field": "t", "type": "quantitative", "scale": {"domain": [0,12], "nice": false, "zero": false}, "axis": {"values": [0,2,4,6,8,10,12], "title": null, "domain": false}},
      "y": {"field": "v", "type": "quantitative", "scale": {"domain": [-0.12,1.23], "nice": false, "zero": false}, "axis": {"title": "MCH_BRKGA", "titleColor": "#ff9900", "titleFontSize": 63, "titleAlign": "right", "titleBaseline": "alphabetic", "titleX": -5, "titleY": 50, "labels": false, "grid": false}},
      "y2": {"datum": 0}}},
    {"data": {"name": "brk"}, "transform": [{"filter": "datum.s == 'MCH_BRKGA'"}], "mark": {"type": "line", "interpolate": "step-after", "color": "#f5a040", "strokeWidth": 5}, "encoding": {"x": {"field": "t", "type": "quantitative"}, "y": {"field": "v", "type": "quantitative"}}},
    {"data": {"values": [{}]}, "mark": {"type": "rule", "color": "#000000", "strokeWidth": 2}, "encoding": {"x": {"datum": 0.714}}},
    {"data": {"name": "T"}, "mark": {"type": "rule", "color": "#00b0f0", "strokeWidth": 5, "strokeDash": [47,24]}, "encoding": {"x": {"field": "t", "type": "quantitative"}}}
  ]},
  {"width": 2808, "height": 58.25, "layer": [
    {"data": {"name": "brk"}, "transform": [{"filter": "datum.s == 'MCH_BRKAG'"}], "mark": {"type": "area", "interpolate": "step-after", "color": "#d3d3d3"}, "encoding": {
      "x": {"field": "t", "type": "quantitative", "scale": {"domain": [0,12], "nice": false, "zero": false}, "axis": {"values": [0,2,4,6,8,10,12], "title": null, "domain": false}},
      "y": {"field": "v", "type": "quantitative", "scale": {"domain": [-0.12,1.23], "nice": false, "zero": false}, "axis": {"title": "MCH_BRKAG", "titleColor": "#ff00ff", "titleFontSize": 63, "titleAlign": "right", "titleBaseline": "alphabetic", "titleX": -5, "titleY": 50, "labels": false, "grid": false}},
      "y2": {"datum": 0}}},
    {"data": {"name": "brk"}, "transform": [{"filter": "datum.s == 'MCH_BRKAG'"}], "mark": {"type": "line", "interpolate": "step-after", "color": "#e020e0", "strokeWidth": 5}, "encoding": {"x": {"field": "t", "type": "quantitative"}, "y": {"field": "v", "type": "quantitative"}}},
    {"data": {"values": [{}]}, "mark": {"type": "rule", "color": "#000000", "strokeWidth": 2}, "encoding": {"x": {"datum": 0.714}}},
    {"data": {"name": "T"}, "mark": {"type": "rule", "color": "#00b0f0", "strokeWidth": 5, "strokeDash": [47,24]}, "encoding": {"x": {"field": "t", "type": "quantitative"}}}
  ]},
  {"width": 2808, "height": 58.25, "layer": [
    {"data": {"name": "brk"}, "transform": [{"filter": "datum.s == 'BRKFG'"}], "mark": {"type": "area", "interpolate": "step-after", "color": "#d3d3d3"}, "encoding": {
      "x": {"field": "t", "type": "quantitative", "scale": {"domain": [0,12], "nice": false, "zero": false}, "axis": {"values": [0,2,4,6,8,10,12], "format": "d", "title": null, "labels": true, "labelPadding": 4, "domain": true, "domainWidth": 4}},
      "y": {"field": "v", "type": "quantitative", "scale": {"domain": [-0.12,1.23], "nice": false, "zero": false}, "axis": {"title": "BRKFG", "titleColor": "#ff9999", "titleFontSize": 63, "titleAlign": "right", "titleBaseline": "alphabetic", "titleX": -5, "titleY": 50, "labels": false, "grid": false}},
      "y2": {"datum": 0}}},
    {"data": {"name": "brk"}, "transform": [{"filter": "datum.s == 'BRKFG'"}], "mark": {"type": "line", "interpolate": "step-after", "color": "#f2a5a5", "strokeWidth": 5}, "encoding": {"x": {"field": "t", "type": "quantitative"}, "y": {"field": "v", "type": "quantitative"}}},
    {"data": {"values": [{}]}, "mark": {"type": "rule", "color": "#000000", "strokeWidth": 2}, "encoding": {"x": {"datum": 0.714}}},
    {"data": {"name": "T"}, "mark": {"type": "rule", "color": "#00b0f0", "strokeWidth": 5, "strokeDash": [47,24]}, "encoding": {"x": {"field": "t", "type": "quantitative"}}}
  ]},
  {"width": 2808, "height": 58, "layer": [
    {"data": {"name": "T"}, "mark": {"type": "rule", "color": "#00b0f0", "strokeWidth": 5, "strokeDash": [47,24]}, "encoding": {"x": {"field": "t", "type": "quantitative", "scale": {"domain": [0,12], "nice": false, "zero": false}, "axis": null}}}
  ]},
  {"width": 2808, "height": 20, "layer": [
    {"data": {"values": [{}]}, "mark": {"type": "rule", "color": "#000000", "strokeWidth": 8, "strokeCap": "round"}, "encoding": {"x": {"datum": 0, "scale": {"domain": [0,12], "nice": false, "zero": false}, "axis": null}, "x2": {"datum": 12.0}, "y": {"datum": 0, "scale": {"domain": [-1,1], "nice": false}, "axis": null}}},
    {"data": {"values": [{}]}, "mark": {"type": "point", "shape": "triangle-right", "filled": true, "color": "#000000", "opacity": 1, "size": 500}, "encoding": {"x": {"datum": 12.03}, "y": {"datum": 0}}},
    {"data": {"name": "T"}, "mark": {"type": "rule", "color": "#00b0f0", "strokeWidth": 5, "strokeDash": [47,24]}, "encoding": {"x": {"field": "t", "type": "quantitative"}, "y": {"datum": 1}, "y2": {"datum": 0}}},
    {"data": {"name": "T"}, "mark": {"type": "circle", "color": "#000000", "opacity": 1, "size": 250}, "encoding": {"x": {"field": "t", "type": "quantitative"}, "y": {"datum": 0}}},
    {"data": {"name": "T"}, "transform": [{"filter": "datum.n == '1' || datum.n == '4'"}], "mark": {"type": "text", "text": "T", "fontSize": 63, "color": "#000000", "align": "center", "baseline": "alphabetic", "dx": -14, "dy": 57}, "encoding": {"x": {"field": "t", "type": "quantitative"}, "y": {"datum": 0}}},
    {"data": {"name": "T"}, "transform": [{"filter": "datum.n == '1' || datum.n == '4'"}], "mark": {"type": "text", "fontSize": 48, "color": "#000000", "align": "center", "baseline": "alphabetic", "dx": 11, "dy": 60}, "encoding": {"x": {"field": "t", "type": "quantitative"}, "y": {"datum": 0}, "text": {"field": "n"}}},
    {"data": {"name": "T"}, "transform": [{"filter": "datum.n == '2' || datum.n == '3' || datum.n == '5'"}], "mark": {"type": "text", "text": "T", "fontSize": 63, "color": "#000000", "align": "center", "baseline": "alphabetic", "dx": 20, "dy": 57}, "encoding": {"x": {"field": "t", "type": "quantitative"}, "y": {"datum": 0}}},
    {"data": {"name": "T"}, "transform": [{"filter": "datum.n == '2' || datum.n == '3' || datum.n == '5'"}], "mark": {"type": "text", "fontSize": 48, "color": "#000000", "align": "center", "baseline": "alphabetic", "dx": 45, "dy": 60}, "encoding": {"x": {"field": "t", "type": "quantitative"}, "y": {"datum": 0}, "text": {"field": "n"}}},
    {"data": {"name": "T"}, "transform": [{"filter": "datum.n == '6'"}], "mark": {"type": "text", "text": "T", "fontSize": 63, "color": "#000000", "align": "center", "baseline": "alphabetic", "dx": 45, "dy": 57}, "encoding": {"x": {"field": "t", "type": "quantitative"}, "y": {"datum": 0}}},
    {"data": {"name": "T"}, "transform": [{"filter": "datum.n == '6'"}], "mark": {"type": "text", "fontSize": 48, "color": "#000000", "align": "center", "baseline": "alphabetic", "dx": 70, "dy": 60}, "encoding": {"x": {"field": "t", "type": "quantitative"}, "y": {"datum": 0}, "text": {"field": "n"}}},
    {"data": {"values": [{}]}, "mark": {"type": "text", "text": "(s)", "fontSize": 63, "color": "#000000", "align": "center", "baseline": "alphabetic", "dy": 53}, "encoding": {"x": {"datum": 11.76}, "y": {"datum": 0}}}
  ]}
]
}
